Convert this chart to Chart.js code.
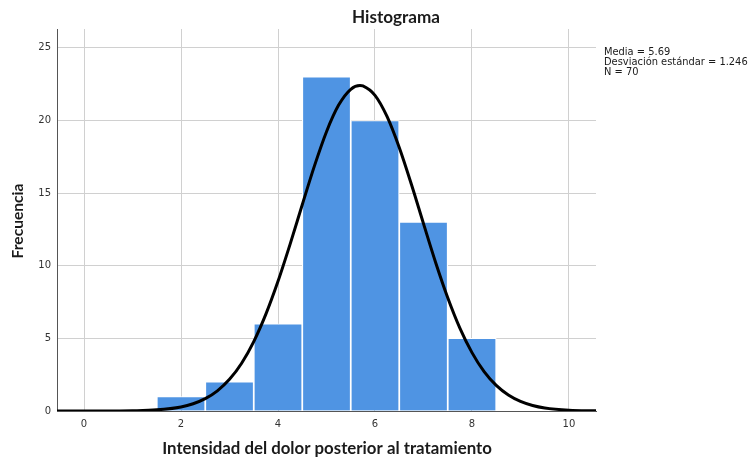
<!DOCTYPE html>
<html><head><meta charset="utf-8">
<script src="https://cdn.jsdelivr.net/npm/chart.js@4"></script>
<style>html,body{margin:0;padding:0;background:#fff;}#wrap{width:752px;height:458px;}</style>
</head><body><div id="wrap"><canvas id="c" width="752" height="458"></canvas></div>
<script>
// Histogram bins (centre of each bin) and counts
const binCenters = [2, 3, 4, 5, 6, 7, 8];
const binCounts  = [1, 2, 6, 23, 20, 13, 5];
// Normal curve
const curveX = [-0.56, 0, 0.5, 1, 1.5, 2, 2.25, 2.5, 2.75, 3, 3.25, 3.5, 3.75, 4, 4.25, 4.5, 4.75, 5, 5.25, 5.5, 5.69, 5.75, 6, 6.25, 6.5, 6.75, 7, 7.25, 7.5, 7.75, 8, 8.25, 8.5, 8.75, 9, 9.25, 9.5, 10, 10.56];
const curveY = [0, 0, 0.004, 0.019, 0.078, 0.28, 0.50, 0.85, 1.39, 2.18, 3.29, 4.78, 6.67, 8.93, 11.49, 14.20, 16.86, 19.23, 21.06, 22.15, 22.41, 22.38, 21.73, 20.26, 18.14, 15.61, 12.90, 10.23, 7.80, 5.71, 4.02, 2.71, 1.76, 1.10, 0.66, 0.38, 0.21, 0.056, 0.01];
const xTicks = [0, 2, 4, 6, 8, 10];
const yTicks = [0, 5, 10, 15, 20, 25];
const titleText = 'Histograma';
const xTitle = 'Intensidad del dolor posterior al tratamiento';
const yTitle = 'Frecuencia';
const statsLines = ['Media = 5.69', 'Desviación estándar = 1.246', 'N = 70'];

const FONT = '"DejaVu Sans", "Liberation Sans", sans-serif';
const BFONT = 'Lato, "DejaVu Sans", sans-serif';

function fitFont(ctx, text, weight, base, target, fam) {
  ctx.font = weight + ' ' + base + 'px ' + fam;
  const w = ctx.measureText(text).width;
  return base * target / w;
}

const textPlugin = {
  id: 'texts',
  afterDraw(chart) {
    const ctx = chart.ctx;
    ctx.save();
    ctx.fillStyle = '#1a1a1a';
    ctx.textBaseline = 'middle';
    ctx.textAlign = 'center';
    let s = fitFont(ctx, titleText, 'bold', 14, 88, BFONT);
    ctx.font = 'bold ' + s + 'px ' + BFONT;
    ctx.fillText(titleText, 396, 17);
    s = fitFont(ctx, xTitle, 'bold', 14, 330, BFONT);
    ctx.font = 'bold ' + s + 'px ' + BFONT;
    ctx.fillText(xTitle, 327, 449);
    s = fitFont(ctx, yTitle, 'bold', 14, 75, BFONT);
    ctx.save();
    ctx.translate(18, 221);
    ctx.rotate(-Math.PI / 2);
    ctx.font = 'bold ' + s + 'px ' + BFONT;
    ctx.fillText(yTitle, 0, 0);
    ctx.restore();
    s = fitFont(ctx, statsLines[1], 'normal', 10, 144, FONT);
    ctx.font = s + 'px ' + FONT;
    ctx.textAlign = 'left';
    statsLines.forEach((t, i) => ctx.fillText(t, 604, 52 + i * 10.3));
    ctx.restore();
  }
};

new Chart(document.getElementById('c'), {
  type: 'bar',
  data: {
    datasets: [
      {
        type: 'line',
        data: curveX.map((x, i) => ({x: x, y: curveY[i]})),
        borderColor: '#000',
        borderWidth: 3,
        pointRadius: 0,
        cubicInterpolationMode: 'monotone',
        fill: false,
        order: 0
      },
      {
        type: 'bar',
        data: binCenters.map((x, i) => ({x: x, y: binCounts[i]})),
        backgroundColor: '#4f94e3',
        borderColor: '#ffffff',
        borderWidth: {top: 1, left: 1.2, right: 1.2, bottom: 0},
        borderSkipped: false,
        barPercentage: 1,
        categoryPercentage: 1,
        order: 1
      }
    ]
  },
  options: {
    responsive: false,
    animation: false,
    devicePixelRatio: 1,
    layout: {padding: {left: 0, top: 29, right: 156, bottom: 0}},
    plugins: {legend: {display: false}, tooltip: {enabled: false}, title: {display: false}},
    scales: {
      x: {
        type: 'linear',
        min: -0.557,
        max: 10.557,
        offset: false,
        grid: {color: '#d0d0d0', lineWidth: 1, drawTicks: false, offset: false},
        border: {display: true, color: '#555', width: 1},
        ticks: {padding: 7, color: '#333', font: {family: FONT, size: 10}},
        afterBuildTicks: (sc) => { sc.ticks = xTicks.map(v => ({value: v})); },
        afterFit: (sc) => { sc.height = 47; }
      },
      y: {
        type: 'linear',
        min: 0,
        max: 26.3,
        grid: {color: '#d0d0d0', lineWidth: 1, drawTicks: false},
        border: {display: true, color: '#555', width: 1},
        ticks: {padding: 6, color: '#333', font: {family: FONT, size: 10}},
        afterBuildTicks: (sc) => { sc.ticks = yTicks.map(v => ({value: v})); },
        afterFit: (sc) => { sc.width = 57; }
      }
    }
  },
  plugins: [textPlugin]
});
</script>
</body></html>
